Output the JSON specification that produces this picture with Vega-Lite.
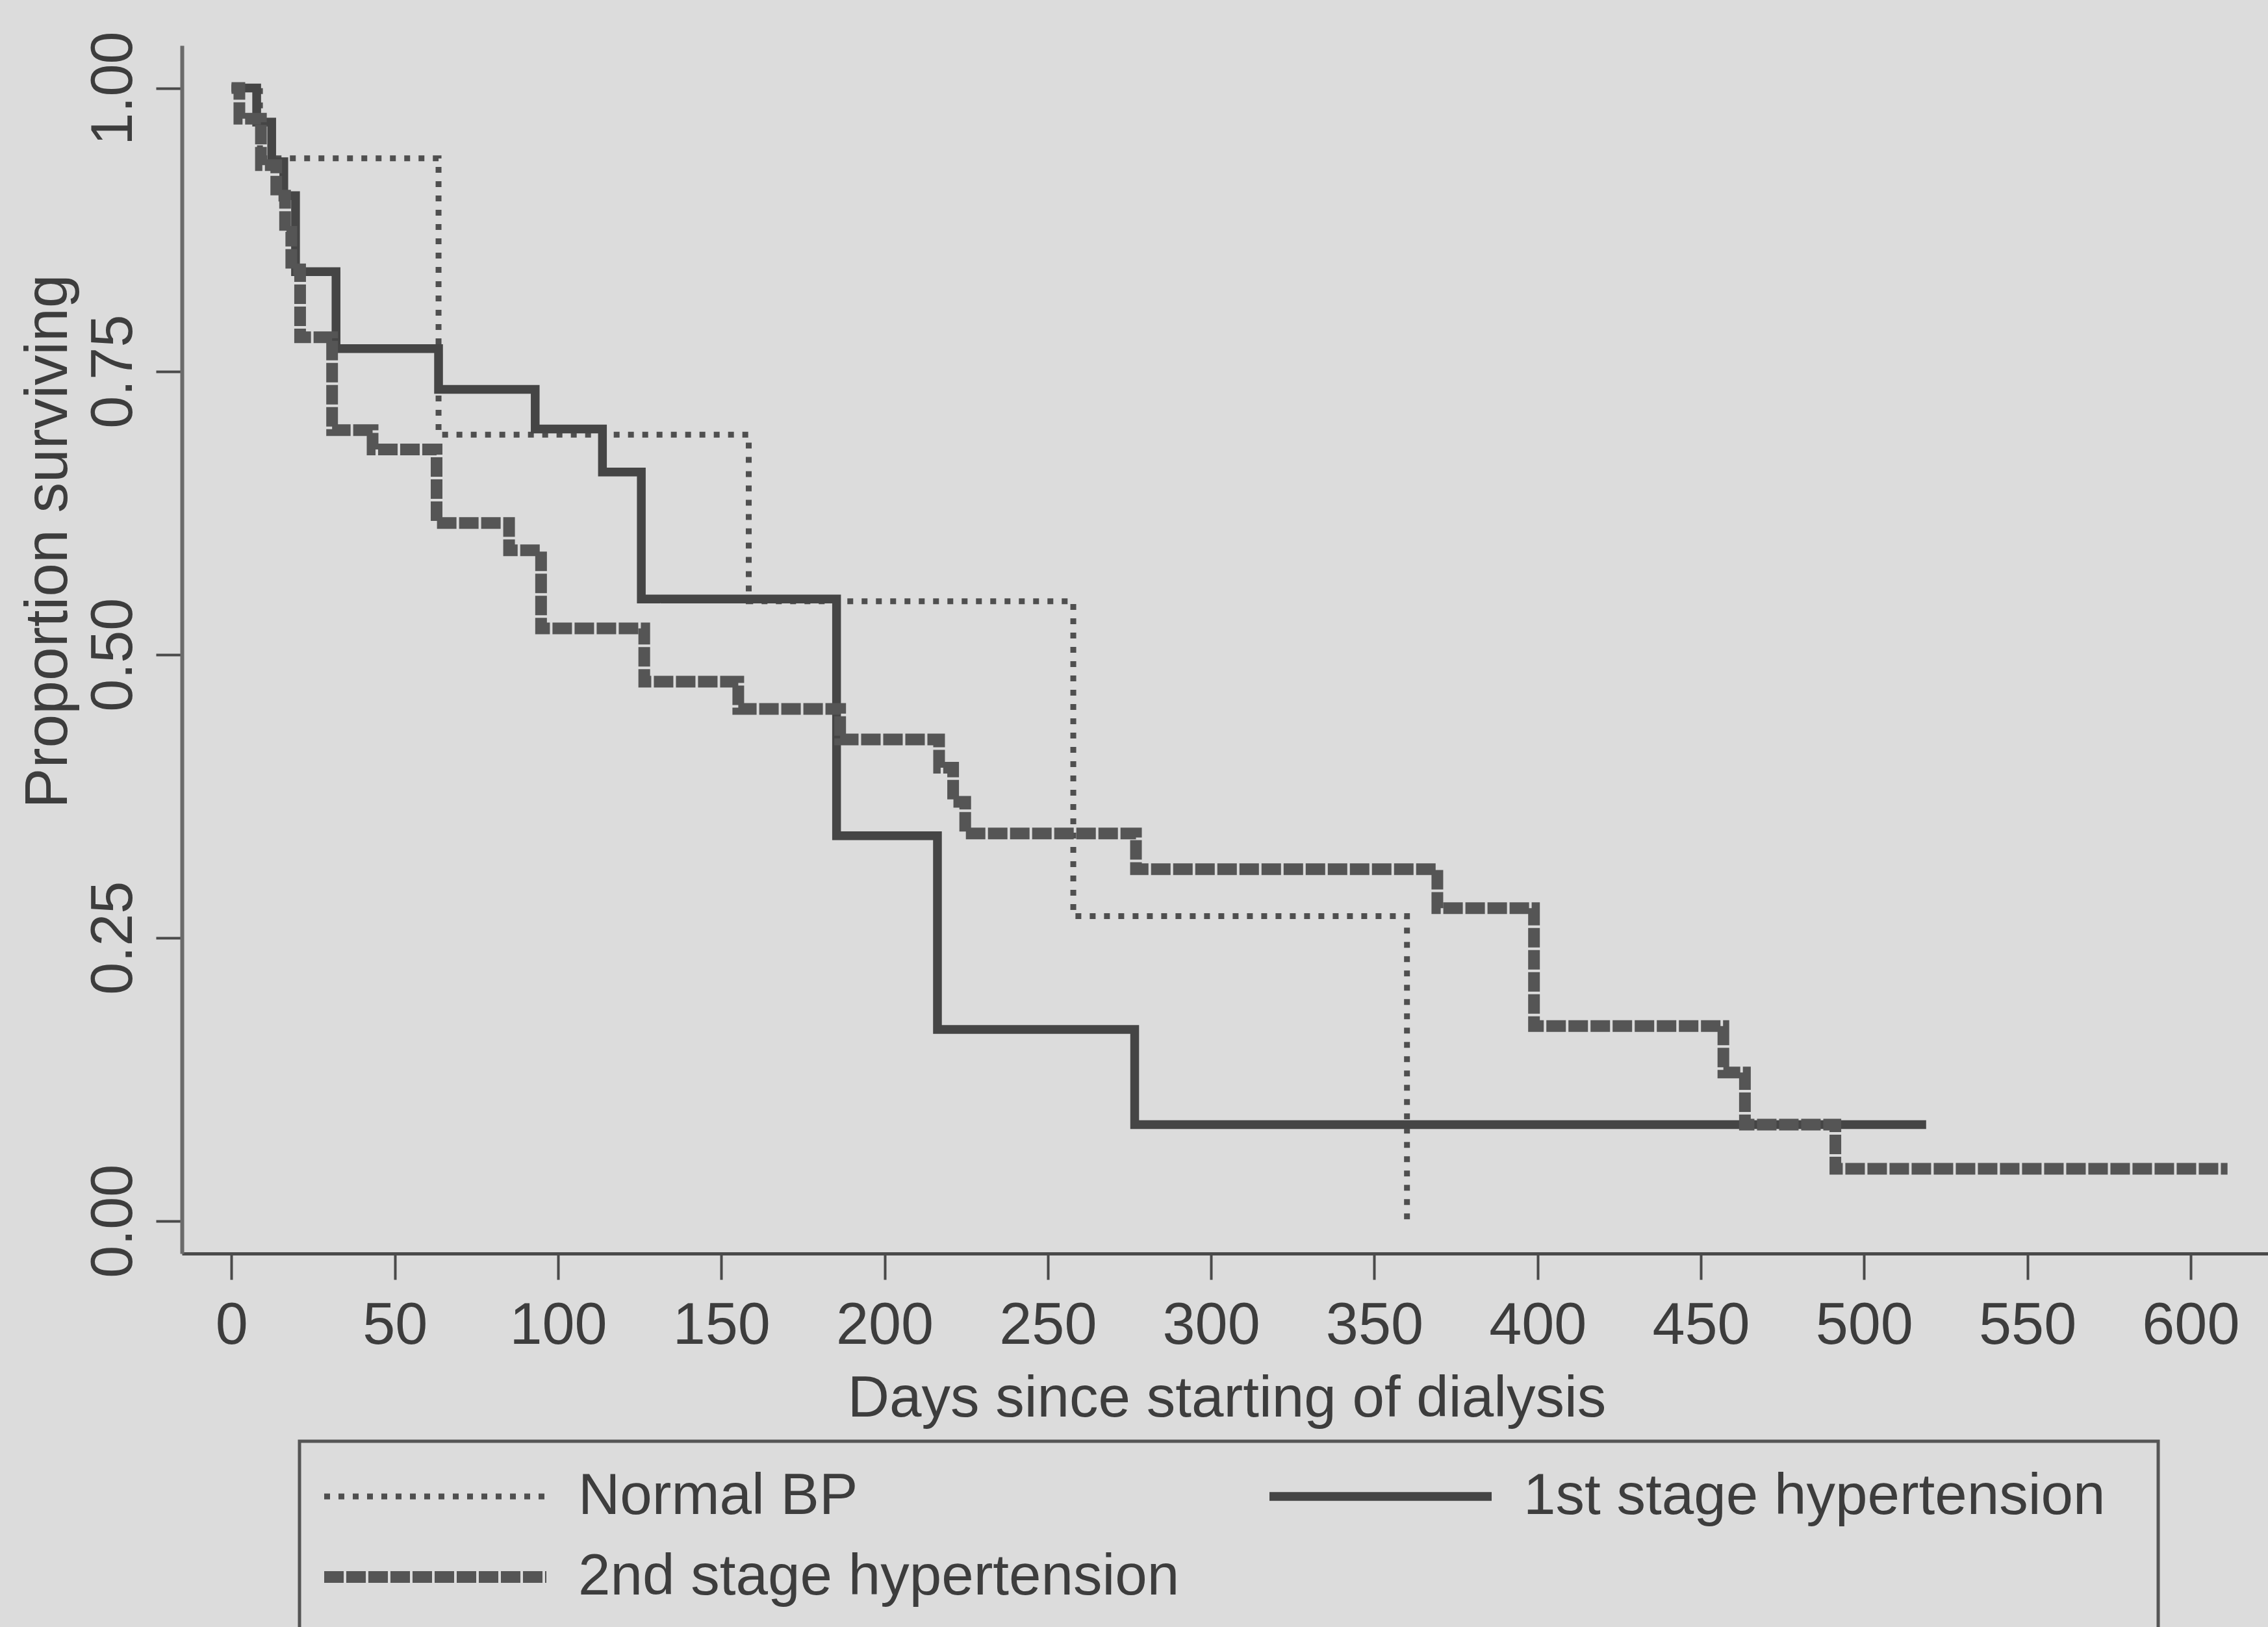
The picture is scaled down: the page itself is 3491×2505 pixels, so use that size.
{
  "$schema": "https://vega.github.io/schema/vega-lite/v6.json",
  "width": 3211,
  "height": 1860,
  "autosize": {"type": "none"},
  "padding": {"left": 280, "top": 70, "right": 0, "bottom": 575},
  "background": "#dcdcdc",
  "data": {
    "values": [
      {"group": "Normal BP", "day": 0, "surv": 1.0},
      {"group": "Normal BP", "day": 8.7, "surv": 0.938},
      {"group": "Normal BP", "day": 63.4, "surv": 0.694},
      {"group": "Normal BP", "day": 158.4, "surv": 0.547},
      {"group": "Normal BP", "day": 257.8, "surv": 0.269},
      {"group": "Normal BP", "day": 360, "surv": 0.0},

      {"group": "1st stage hypertension", "day": 0, "surv": 1.0},
      {"group": "1st stage hypertension", "day": 7.7, "surv": 0.97},
      {"group": "1st stage hypertension", "day": 12.3, "surv": 0.935},
      {"group": "1st stage hypertension", "day": 16, "surv": 0.905},
      {"group": "1st stage hypertension", "day": 19.6, "surv": 0.838},
      {"group": "1st stage hypertension", "day": 32, "surv": 0.77},
      {"group": "1st stage hypertension", "day": 63.4, "surv": 0.734},
      {"group": "1st stage hypertension", "day": 93, "surv": 0.699},
      {"group": "1st stage hypertension", "day": 113.6, "surv": 0.661},
      {"group": "1st stage hypertension", "day": 125.5, "surv": 0.549},
      {"group": "1st stage hypertension", "day": 185.3, "surv": 0.34},
      {"group": "1st stage hypertension", "day": 216.2, "surv": 0.169},
      {"group": "1st stage hypertension", "day": 276.6, "surv": 0.085},
      {"group": "1st stage hypertension", "day": 519, "surv": 0.085},

      {"group": "2nd stage hypertension", "day": 0, "surv": 1.0},
      {"group": "2nd stage hypertension", "day": 2.4, "surv": 0.973},
      {"group": "2nd stage hypertension", "day": 9, "surv": 0.932},
      {"group": "2nd stage hypertension", "day": 13.7, "surv": 0.905},
      {"group": "2nd stage hypertension", "day": 16.4, "surv": 0.873},
      {"group": "2nd stage hypertension", "day": 18.3, "surv": 0.84},
      {"group": "2nd stage hypertension", "day": 21, "surv": 0.78},
      {"group": "2nd stage hypertension", "day": 30.8, "surv": 0.698},
      {"group": "2nd stage hypertension", "day": 43.2, "surv": 0.681},
      {"group": "2nd stage hypertension", "day": 62.8, "surv": 0.616},
      {"group": "2nd stage hypertension", "day": 85, "surv": 0.592},
      {"group": "2nd stage hypertension", "day": 94.8, "surv": 0.523},
      {"group": "2nd stage hypertension", "day": 126.4, "surv": 0.476},
      {"group": "2nd stage hypertension", "day": 155.2, "surv": 0.452},
      {"group": "2nd stage hypertension", "day": 186.4, "surv": 0.425},
      {"group": "2nd stage hypertension", "day": 216.7, "surv": 0.4},
      {"group": "2nd stage hypertension", "day": 221, "surv": 0.37},
      {"group": "2nd stage hypertension", "day": 224.7, "surv": 0.342},
      {"group": "2nd stage hypertension", "day": 277, "surv": 0.3105},
      {"group": "2nd stage hypertension", "day": 369.3, "surv": 0.276},
      {"group": "2nd stage hypertension", "day": 398.9, "surv": 0.172},
      {"group": "2nd stage hypertension", "day": 456.9, "surv": 0.131},
      {"group": "2nd stage hypertension", "day": 463.5, "surv": 0.085},
      {"group": "2nd stage hypertension", "day": 491.2, "surv": 0.046},
      {"group": "2nd stage hypertension", "day": 611.3, "surv": 0.046}
    ]
  },
  "mark": {"type": "line", "interpolate": "step-after", "strokeCap": "butt", "strokeJoin": "miter"},
  "encoding": {
    "x": {
      "field": "day",
      "type": "quantitative",
      "scale": {"domain": [-15.2, 623.7], "nice": false, "zero": false},
      "axis": {
        "values": [0, 50, 100, 150, 200, 250, 300, 350, 400, 450, 500, 550, 600],
        "format": "d",
        "title": "Days since starting of dialysis",
        "titleFont": "Liberation Sans",
        "titleFontSize": 89,
        "titleFontWeight": "normal",
        "titleColor": "#3d3d3d",
        "titleBaseline": "alphabetic",
        "titleAlign": "center",
        "titleX": 1608,
        "titleY": 250,
        "labelFont": "Liberation Sans",
        "labelFontSize": 90,
        "labelColor": "#3d3d3d",
        "labelAngle": 0,
        "labelBaseline": "alphabetic",
        "labelAlign": "center",
        "labelPadding": 98,
        "labelFlush": false,
        "labelOverlap": false,
        "tickSize": 40,
        "tickWidth": 4,
        "tickColor": "#4a4a4a",
        "domainColor": "#4a4a4a",
        "domainWidth": 5,
        "grid": false
      }
    },
    "y": {
      "field": "surv",
      "type": "quantitative",
      "scale": {"domain": [-0.0288, 1.0376], "nice": false, "zero": false},
      "axis": {
        "values": [0, 0.25, 0.5, 0.75, 1],
        "format": ".2f",
        "title": "Proportion surviving",
        "titleFont": "Liberation Sans",
        "titleFontSize": 93,
        "titleFontWeight": "normal",
        "titleColor": "#3d3d3d",
        "titleAngle": 270,
        "titleAlign": "center",
        "titleBaseline": "alphabetic",
        "titleX": -178,
        "titleY": 763,
        "labelFont": "Liberation Sans",
        "labelFontSize": 90,
        "labelColor": "#3d3d3d",
        "labelAngle": 270,
        "labelAlign": "center",
        "labelBaseline": "alphabetic",
        "labelPadding": 38,
        "labelFlush": false,
        "labelOverlap": false,
        "tickSize": 40,
        "tickWidth": 4,
        "tickColor": "#4a4a4a",
        "domainColor": "#6a6a6a",
        "domainWidth": 6,
        "grid": false
      }
    },
    "color": {
      "field": "group",
      "type": "nominal",
      "scale": {
        "domain": ["Normal BP", "1st stage hypertension", "2nd stage hypertension"],
        "range": ["#4f4f4f", "#454545", "#555555"]
      },
      "legend": {"title": " "}
    },
    "strokeDash": {
      "field": "group",
      "type": "nominal",
      "scale": {
        "domain": ["Normal BP", "1st stage hypertension", "2nd stage hypertension"],
        "range": [[9, 13], [1, 0], [30, 4]]
      },
      "legend": {"title": " "}
    },
    "strokeWidth": {
      "field": "group",
      "type": "ordinal",
      "scale": {
        "domain": ["Normal BP", "1st stage hypertension", "2nd stage hypertension"],
        "range": [9, 18, 18]
      },
      "legend": {"title": " "}
    }
  },
  "config": {
    "view": {"stroke": null},
    "font": "Liberation Sans",
    "legend": {
      "orient": "none",
      "legendX": 181,
      "legendY": 2149,
      "direction": "horizontal",
      "columns": 2,
      "columnPadding": 129,
      "rowPadding": 12,
      "clipHeight": 112,
      "symbolType": "stroke",
      "symbolSize": 116964,
      "labelFont": "Liberation Sans",
      "labelFontSize": 89,
      "labelColor": "#3d3d3d",
      "labelOffset": 40,
      "labelLimit": 3000,
      "padding": 29,
      "strokeColor": "#555555",
      "strokeWidth": 5,
      "titleOrient": "right",
      "titlePadding": 52,
      "titleFontSize": 1
    }
  }
}
